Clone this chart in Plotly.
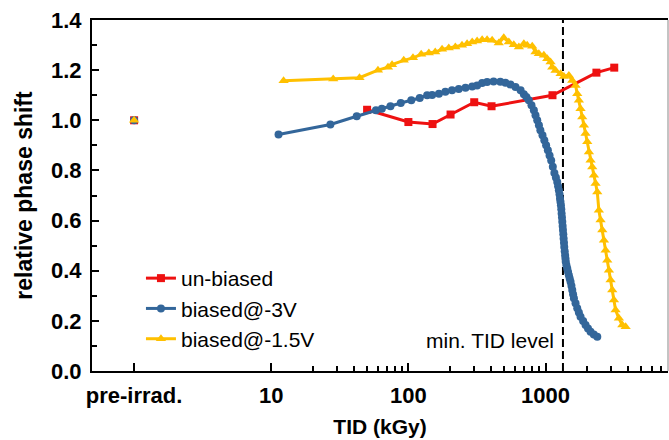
import plotly.graph_objects as go

# ---------------- data ----------------
red_x = [1, None, 50, 100, 150, 203, 302, 404, 1124, 2350, 3170]
red_y = [1.0, None, 1.042, 0.993, 0.985, 1.023, 1.072, 1.056, 1.100, 1.190, 1.210]

blue_x = [1, None, 11.3, 27, 42, 58, 64, 74, 88, 105, 121, 137, 149, 167, 186, 208, 233, 261,
          292, 317, 345, 375, 418, 468, 510, 555, 604, 658, 695, 725, 755, 790, 822, 845, 870,
          895, 917, 950, 980, 1010, 1040, 1070, 1100, 1130, 1160, 1190, 1217, 1235, 1251, 1265,
          1275, 1285, 1295, 1303, 1310, 1318, 1325, 1333, 1340, 1348, 1355, 1363, 1370, 1380,
          1390, 1398, 1405, 1420, 1440, 1460, 1480, 1500, 1522, 1545, 1566, 1588, 1610, 1655,
          1703, 1750, 1800, 1880, 1958, 2040, 2130, 2250, 2384]
blue_y = [1.0, None, 0.943, 0.983, 1.016, 1.040, 1.046, 1.056, 1.069, 1.080, 1.089, 1.100, 1.101,
          1.106, 1.114, 1.120, 1.125, 1.130, 1.135, 1.139, 1.149, 1.153, 1.155, 1.154, 1.150,
          1.143, 1.133, 1.120, 1.104, 1.093, 1.080, 1.060, 1.040, 1.020, 1.000, 0.980, 0.960,
          0.940, 0.920, 0.900, 0.880, 0.860, 0.840, 0.815, 0.790, 0.772, 0.754, 0.737, 0.721,
          0.705, 0.688, 0.675, 0.661, 0.645, 0.628, 0.612, 0.595, 0.578, 0.562, 0.545, 0.528,
          0.512, 0.495, 0.478, 0.462, 0.449, 0.436, 0.422, 0.409, 0.395, 0.382, 0.369, 0.356,
          0.340, 0.323, 0.306, 0.290, 0.270, 0.250, 0.233, 0.216, 0.199, 0.183, 0.170, 0.157,
          0.146, 0.137]

yel_x = [1, None, 12.3, 28.3, 44, 60, 71, 76, 92.5, 108, 124, 141, 157, 176, 197, 220, 246, 268,
         292, 317, 345, 375, 408, 456, 496, 540, 587, 639, 695, 735, 800, 845, 894, 972, 1029,
         1088, 1119, 1183, 1288, 1361, 1480, 1566, 1656, 1703, 1751, 1800, 1852, 1905, 1958,
         2015, 2072, 2130, 2191, 2253, 2317, 2384, 2449, 2520, 2594, 2666, 2742, 2820, 2899,
         2981, 3066, 3153, 3242, 3428, 3630, 3837]
yel_y = [1.0, None, 1.158, 1.165, 1.170, 1.200, 1.212, 1.222, 1.239, 1.249, 1.263, 1.268, 1.272,
         1.283, 1.288, 1.292, 1.299, 1.305, 1.312, 1.316, 1.321, 1.321, 1.319, 1.308, 1.329,
         1.312, 1.301, 1.292, 1.305, 1.299, 1.295, 1.272, 1.265, 1.259, 1.245, 1.232, 1.212,
         1.199, 1.186, 1.175, 1.179, 1.159, 1.139, 1.106, 1.080, 1.046, 1.013, 0.980, 0.947,
         0.914, 0.874, 0.841, 0.814, 0.781, 0.748, 0.714, 0.641, 0.602, 0.562, 0.522, 0.482,
         0.442, 0.402, 0.363, 0.323, 0.283, 0.243, 0.210, 0.183, 0.176]

min_tid = 1340
x_tickvals = [1, 10, 100, 1000]
x_ticktext = ["pre-irrad.", "10", "100", "1000"]
x_minor = [20, 30, 40, 50, 60, 70, 80, 90, 200, 300, 400, 500, 600, 700, 800, 900,
           2000, 3000, 4000, 5000, 6000, 7000]
y_tickvals = [0.0, 0.2, 0.4, 0.6, 0.8, 1.0, 1.2, 1.4]

RED = "#ee1111"
BLUE = "#33669a"
YEL = "#ffc000"
FONT = "Liberation Sans, Arial, sans-serif"

fig = go.Figure()
fig.add_trace(go.Scatter(x=[min_tid, min_tid], y=[0, 1.4], mode="lines",
                         line=dict(color="black", width=2, dash="8px,4px"),
                         showlegend=False, hoverinfo="skip"))
fig.add_trace(go.Scatter(x=red_x, y=red_y, name="un-biased", mode="lines+markers",
                         line=dict(color=RED, width=3),
                         marker=dict(symbol="square", size=8, color=RED),
                         connectgaps=False))
fig.add_trace(go.Scatter(x=blue_x, y=blue_y, name="biased@-3V", mode="lines+markers",
                         line=dict(color=BLUE, width=3),
                         marker=dict(symbol="circle", size=8, color=BLUE),
                         connectgaps=False))
fig.add_trace(go.Scatter(x=yel_x, y=yel_y, name="biased@-1.5V", mode="lines+markers",
                         line=dict(color=YEL, width=3),
                         marker=dict(symbol="triangle-up", size=9, color=YEL),
                         connectgaps=False))

fig.update_layout(
    width=669, height=440,
    margin=dict(l=92, r=1, t=20, b=69),
    paper_bgcolor="white", plot_bgcolor="white",
    font=dict(family=FONT, color="black"),
    legend=dict(x=0.085, y=0.322, xanchor="left", yanchor="top",
                bgcolor="rgba(0,0,0,0)", font=dict(size=21, family=FONT),
                tracegroupgap=0),
    xaxis=dict(type="log", range=[-0.307, 3.893],
               tickmode="array", tickvals=x_tickvals, ticktext=x_ticktext,
               ticks="inside", ticklen=8, tickwidth=2, tickcolor="black",
               minor=dict(tickmode="array", tickvals=x_minor, ticks="inside",
                          ticklen=5, tickwidth=1.5, tickcolor="black"),
               showline=True, linecolor="black", linewidth=2, mirror=True,
               showgrid=False, zeroline=False,
               tickfont=dict(size=22, weight="bold", family=FONT),
               ticklabelstandoff=4,
               title=dict(text="TID (kGy)", font=dict(size=21, weight="bold", family=FONT),
                          standoff=12)),
    yaxis=dict(range=[0, 1.4], tickmode="array", tickvals=y_tickvals,
               tickformat=".1f",
               ticks="inside", ticklen=7, tickwidth=2, tickcolor="black",
               minor=dict(dtick=0.1, ticks="inside", ticklen=5, tickwidth=1.5,
                          tickcolor="black"),
               showline=True, linecolor="black", linewidth=2,
               showgrid=False, zeroline=False,
               tickfont=dict(size=22, weight="bold", family=FONT),
               ticklabelstandoff=4,
               title=dict(text="relative phase shift",
                          font=dict(size=23, weight="bold", family=FONT), standoff=12)),
    shapes=[dict(type="line", xref="paper", yref="paper", x0=1, x1=1, y0=0, y1=1,
                 line=dict(color="#888888", width=1))],
    annotations=[dict(text="min. TID level", xref="paper", yref="paper",
                      x=(556 - 92) / 576, y=(371 - 340) / 351, xanchor="right",
                      yanchor="middle", showarrow=False,
                      font=dict(size=21, family=FONT, color="black"))],
)

fig.write_html("out.html")
